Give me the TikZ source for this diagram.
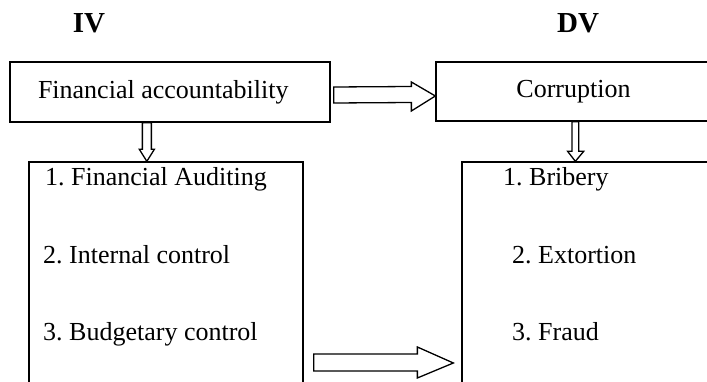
\documentclass[tikz,border=0pt]{standalone}
\usepackage{fontspec}
\setmainfont{Liberation Serif}
\usetikzlibrary{calc}
\frenchspacing

\begin{document}
\begin{tikzpicture}[
    x=1pt, y=-1pt,
    box/.style={rectangle, draw, line width=1.3pt, inner sep=0pt, font=\fontsize{26}{30}\selectfont},
    item/.style={anchor=base west, inner sep=0pt, font=\fontsize{26}{30}\selectfont},
    head/.style={anchor=base, inner sep=0pt, font=\fontsize{29}{34}\selectfont\bfseries},
    hollow/.style={draw, fill=white, line width=1.3pt, line join=miter}
]

\useasboundingbox (0,0) rectangle (707,382);
\clip (0,0) rectangle (707,382);

\node[head] (ivlabel) at (89,33) {IV};
\node[head] (dvlabel) at (578,33) {DV};

\node[box, minimum width=320pt, minimum height=60pt, text width=264pt, align=flush left] (fa) at (170,92) {Financial accountability};
\node[box, minimum width=275pt, minimum height=59pt] (cor) at (573.5,91.5) {Corruption};
\node[box, minimum width=274pt, minimum height=258pt] (ivbox) at (166,291) {};
\node[box, minimum width=298pt, minimum height=258pt] (dvbox) at (611,291) {};

\node[item] (iv1) at (45,186) {1. Financial Auditing};
\node[item] (iv2) at (43,263) {2. Internal control};
\node[item] (iv3) at (43,340) {3. Budgetary control};
\node[item] (dv1) at (503,186) {1. Bribery};
\node[item] (dv2) at (512,263) {2. Extortion};
\node[item] (dv3) at (512,340) {3. Fraud};

\draw[hollow] ($(fa.east)+(3,-5)$) -- ($(cor.west)+(-24,-5)$) -- ($(cor.west)+(-24,-9.5)$)
    -- ($(cor.west)+(0,4.5)$) -- ($(cor.west)+(-24,19.5)$) -- ($(cor.west)+(-24,11)$)
    -- ($(fa.east)+(3,11)$) -- cycle;
\draw[hollow] ($(fa.south west)+(133,0)$) -- ($(ivbox.north west)+(114,-12)$) -- ($(ivbox.north west)+(111,-12)$)
    -- ($(ivbox.north west)+(118.5,0)$) -- ($(ivbox.north west)+(126,-12)$) -- ($(ivbox.north west)+(123,-12)$)
    -- ($(fa.south west)+(142,0)$) -- cycle;
\draw[hollow] ($(cor.south west)+(136.7,0)$) -- ($(dvbox.north west)+(110.7,-10)$) -- ($(dvbox.north west)+(106.3,-10)$)
    -- ($(dvbox.north west)+(114,0)$) -- ($(dvbox.north west)+(122.3,-10)$) -- ($(dvbox.north west)+(117.3,-10)$)
    -- ($(cor.south west)+(143.3,0)$) -- cycle;
\draw[hollow] ($(ivbox.east)+(10,63)$) -- ($(dvbox.west)+(-44,63)$) -- ($(dvbox.west)+(-44,56)$)
    -- ($(dvbox.west)+(-8,72)$) -- ($(dvbox.west)+(-44,87)$) -- ($(dvbox.west)+(-44,80)$)
    -- ($(ivbox.east)+(10,80)$) -- cycle;

\end{tikzpicture}
\end{document}
